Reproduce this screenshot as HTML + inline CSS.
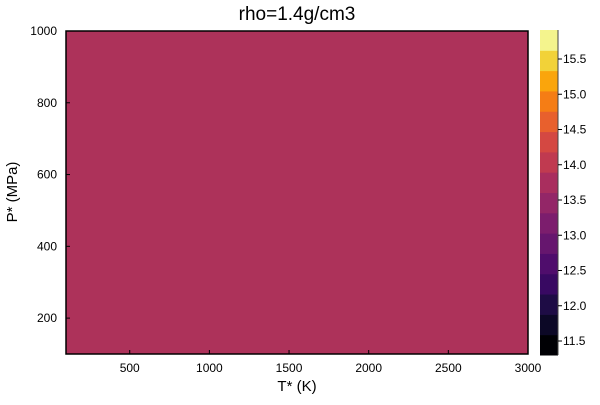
<!DOCTYPE html>
<html><head><meta charset="utf-8"><style>
body{margin:0;background:#fff;font-family:"Liberation Sans","DejaVu Sans",sans-serif}
</style></head><body>
<svg width="600" height="400" xmlns="http://www.w3.org/2000/svg" font-family="Liberation Sans, DejaVu Sans, sans-serif">
<text x="297" y="20" font-size="19" text-anchor="middle">rho=1.4g/cm3</text>
<rect x="66" y="31" width="462" height="323" fill="#ad325a" stroke="#000" stroke-width="1.5"/>
<g id="xt" font-size="12" text-anchor="middle"></g>
<g id="yt" font-size="12" text-anchor="end"></g>
<text x="297" y="391" font-size="15" text-anchor="middle">T* (K)</text>
<text x="17" y="192" font-size="15" text-anchor="middle" transform="rotate(-90 17 192)">P* (MPa)</text>
<g id="cb"></g>
<g id="cbt" font-size="12"></g>
</svg>
<script>
const xTicks=[500,1000,1500,2000,2500,3000];
const yTicks=[200,400,600,800,1000];
const cbTicks=[11.5,12.0,12.5,13.0,13.5,14.0,14.5,15.0,15.5];
const bandColors=["#000004","#0c0826","#1e0c45","#380962","#4f0d6c","#66166e","#7c1d6d","#932667","#a92e5e","#c03a50","#d44842","#e8602d","#f57d15","#faa50c","#f2d238","#f4f48d"];
const ns="http://www.w3.org/2000/svg";
const X=v=>66+(v-100)*462/2900, Y=v=>354-(v-100)*323/900;
const CB=v=>341-(v-11.5)*70.5;
function mk(t,a,p){const e=document.createElementNS(ns,t);for(const k in a)e.setAttribute(k,a[k]);p.appendChild(e);return e;}
const xt=document.getElementById('xt'),yt=document.getElementById('yt'),cb=document.getElementById('cb'),cbt=document.getElementById('cbt');
xTicks.forEach(v=>{const t=mk('text',{x:X(v),y:372},xt);t.textContent=v;


mk('line',{x1:X(v),x2:X(v),y1:354,y2:350,stroke:'#000'},xt);});
yTicks.forEach(v=>{const t=mk('text',{x:57,y:Y(v)+4},yt);t.textContent=v;


mk('line',{x1:66,x2:70,y1:Y(v),y2:Y(v),stroke:'#000'},yt);});
const cbTop=30,cbBot=355,n=bandColors.length,h=(cbBot-cbTop)/n;
for(let i=0;i<n;i++){const r=mk('rect',{x:540,y:cbBot-(i+1)*h,width:18,height:h+0.5,fill:bandColors[i]},cb);

}
mk('line',{x1:558,x2:558,y1:cbTop,y2:cbBot,stroke:'#444'},cb);
cbTicks.forEach(v=>{mk('line',{x1:558,x2:562,y1:CB(v),y2:CB(v),stroke:'#000'},cbt);
const t=mk('text',{x:563,y:CB(v)+4},cbt);t.textContent=v.toFixed(1);

});
</script>
</body></html>
